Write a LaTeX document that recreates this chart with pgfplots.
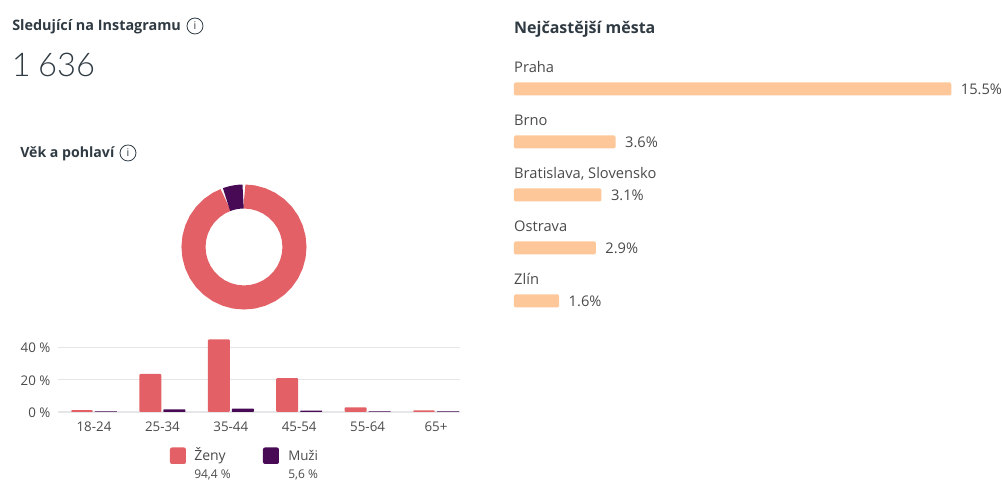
\documentclass[border=0pt]{standalone}
\usepackage{fontspec}
\setmainfont{Open Sans}
\newfontfamily\lightfont{Lato Light}
\usepackage{pgfplots}
\pgfplotsset{compat=1.18}
\usepackage{xcolor}
\definecolor{zeny}{HTML}{E36166}
\definecolor{muzi}{HTML}{480A55}
\definecolor{peach}{HTML}{FDC799}
\definecolor{txt}{HTML}{4A4A4A}
\definecolor{head}{HTML}{2F3A42}
\definecolor{gridc}{HTML}{E6E6E8}

\newcommand{\infoicon}[2]{%
  \draw[head,line width=0.6pt] (#1,#2) circle (8);
  \node[head,inner sep=0pt,font=\fontsize{8}{9}\selectfont] at (#1,#2) {i};}

\begin{document}
\begin{tikzpicture}
\path (0,0) rectangle (751.5pt,-360pt);

% age / gender columns
\begin{axis}[
  at={(43.5pt,-309pt)},anchor=south west,scale only axis,
  width=301.5pt,height=56pt,
  xmin=-0.526,xmax=5.35,ymin=0,ymax=46,
  axis line style={draw=none},tick style={draw=none},
  ymajorgrids,grid style={gridc,line width=0.8pt},
  xtick={0,1,2,3,4,5},
  xticklabels={18-24,25-34,35-44,45-54,55-64,65+},
  ytick={0,20,40},
  yticklabels={0 \%,20 \%,40 \%},
  tick label style={font=\fontsize{10}{12}\selectfont,text=txt},
  x tick label style={yshift=-3.8pt},
  y tick label style={xshift=-2.2pt,yshift=-0.6pt},
  clip=false
]
\addplot[ybar,bar width=16.5pt,bar shift=-9pt,fill=zeny,draw=none,rounded corners=0.8pt] coordinates {
  (0,1.2) (1,23.4) (2,44.7) (3,20.9) (4,2.9) (5,1.0)
};
\addplot[ybar,bar width=16.5pt,bar shift=9pt,fill=muzi,draw=none,rounded corners=0.4pt] coordinates {
  (0,0.4) (1,1.6) (2,2.0) (3,0.9) (4,0.4) (5,0.4)
};
\end{axis}

% donut, 94.4 / 5.6
\begin{axis}[
  at={(183pt,-185.25pt)},anchor=center,scale only axis,hide axis,
  width=94.8pt,height=94.8pt,
  xmin=-63.2,xmax=63.2,ymin=-63.2,ymax=63.2,clip=false
]
\addplot[data cs=polar,zeny,line width=18pt,no markers] coordinates {
  (89.6,50.5) (80,50.5) (70,50.5) (60,50.5) (50,50.5) (40,50.5) (30,50.5) (20,50.5) (10,50.5) (0,50.5)
  (-10,50.5) (-20,50.5) (-30,50.5) (-40,50.5) (-50,50.5) (-60,50.5) (-70,50.5) (-80,50.5) (-90,50.5)
  (-100,50.5) (-110,50.5) (-120,50.5) (-130,50.5) (-140,50.5) (-150,50.5) (-160,50.5) (-170,50.5) (-180,50.5)
  (-190,50.5) (-200,50.5) (-210,50.5) (-220,50.5) (-230,50.5) (-240,50.5) (-248.8,50.5)
};
\addplot[data cs=polar,muzi,line width=18pt,no markers] coordinates {
  (110.2,50.5) (105,50.5) (100,50.5) (95,50.5) (91,50.5)
};
\end{axis}

% top cities
\begin{axis}[
  at={(385.5pt,-245.6pt)},anchor=south west,scale only axis,
  width=328pt,height=198.75pt,
  xmin=0,xmax=15.5,ymin=-0.5,ymax=4.5,y dir=reverse,
  hide axis,clip=false,
  /pgf/number format/assume math mode=true
]
\addplot[xbar,bar width=9.75pt,bar shift=0pt,fill=peach,draw=none,rounded corners=1pt,
  point meta=x,
  nodes near coords={\pgfmathprintnumber[fixed,fixed zerofill,precision=1]{\pgfplotspointmeta}\%},
  nodes near coords align={anchor=west},
  every node near coord/.append style={text=txt,font=\fontsize{11}{13}\selectfont,inner sep=0pt,xshift=7pt}
] coordinates {
  (15.5,0) (3.6,1) (3.1,2) (2.9,3) (1.6,4)
};
\end{axis}

\begin{scope}[x=0.75pt,y=-0.75pt]
  \node[anchor=base west,inner sep=0pt,text=head,font=\fontsize{10.8}{12}\selectfont\bfseries] at (12,31) {Sledující na Instagramu};
  \infoicon{195}{26}
  \node[anchor=base west,inner sep=0pt,text=head,font=\fontsize{24.5}{28}\selectfont\lightfont] at (11.5,77) {1\kern-1pt\ 636};
  \node[anchor=base west,inner sep=0pt,text=head,font=\fontsize{10.6}{12}\selectfont\bfseries] at (20,158) {Věk a pohlaví};
  \infoicon{128}{153}
  \node[anchor=base west,inner sep=0pt,text=head,font=\fontsize{12}{14}\selectfont\bfseries] at (514,33.5) {Nejčastější města};

  \foreach \name/\yy in {Praha/73,Brno/126,{Bratislava, Slovensko}/179,Ostrava/232,Zlín/285}
    \node[anchor=base west,inner sep=0pt,text=txt,font=\fontsize{11}{13}\selectfont] at (514,\yy) {\name};

  \fill[zeny,rounded corners=1.5pt] (170,447.5) rectangle (186,464);
  \fill[muzi,rounded corners=1.5pt] (263,447.5) rectangle (279,464);
  \node[anchor=base west,inner sep=0pt,text=txt,font=\fontsize{10.5}{12}\selectfont] at (194,461) {Ženy};
  \node[anchor=base west,inner sep=0pt,text=txt,font=\fontsize{10}{12}\selectfont] at (288,461) {Muži};
  \node[anchor=base west,inner sep=0pt,text=txt,font=\fontsize{9}{11}\selectfont] at (194,479) {94,4 \%};
  \node[anchor=base west,inner sep=0pt,text=txt,font=\fontsize{9}{11}\selectfont] at (288,479) {5,6 \%};
\end{scope}
\end{tikzpicture}
\end{document}
